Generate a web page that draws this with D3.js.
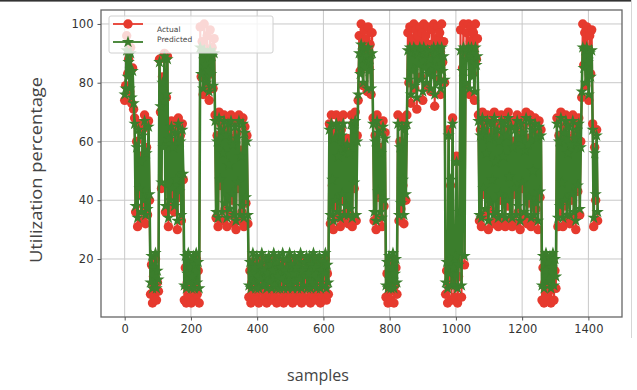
<!DOCTYPE html>
<html>
<head>
<meta charset="utf-8">
<script src="https://cdn.jsdelivr.net/npm/d3@7"></script>
<style>
  body { margin: 0; background: #fff; }
  svg { display: block; }
</style>
</head>
<body>
<div id="chart"></div>
<script>
// one value every 3 samples
var sampleStep = 3;

var actual = [
  74, 79, 96, 83, 88, 77, 92, 73, 85, 71,
  68, 36, 60, 31, 66, 42, 55, 33, 64, 38, 69, 32, 58, 35, 67, 40,
  8, 18, 5, 14, 7, 20, 6, 12, 9,
  88, 70, 44, 82, 60, 90, 36, 75,
  89, 31, 63, 38, 67, 42, 60, 36, 65, 45, 30, 68, 41, 62, 33, 66, 47,
  6, 17, 5, 12, 19, 7, 15, 5, 10, 18, 6, 14, 20, 8, 16, 5,
  99, 82, 94, 76, 100, 88, 79, 96, 85, 74, 98, 83, 92, 78, 95,
  69, 34, 62, 31, 70, 45, 66, 33, 58, 69,
  37, 64, 31, 68, 50, 35, 69, 40, 61, 32,
  67, 30, 63, 44, 69, 33, 57, 36, 68, 31,
  65, 39, 62, 32,
  7, 16, 5, 12, 19, 8, 14, 6, 18, 10,
  5, 15, 9, 20, 6, 13, 7, 17, 5, 11,
  19, 8, 15, 6, 12, 20, 7, 16, 5, 10,
  18, 6, 14, 9, 19, 5, 13, 8, 17, 6,
  11, 20, 7, 15, 5, 12, 18, 8, 14, 6,
  17, 9, 20, 5, 13, 7, 16, 10, 19, 6,
  12, 18, 5, 15, 8, 20, 7, 14, 6, 17,
  9, 19, 5, 13, 7, 16, 11, 20, 6, 15,
  8,
  66, 32, 69, 45, 30, 63, 38, 69, 34, 57,
  68, 31, 64, 40, 69, 33, 60, 36, 61, 32,
  58, 35, 69, 31, 66, 44, 70, 33, 62,
  74, 96, 84, 100, 90, 79, 98, 87, 95, 77, 99, 85, 93, 76, 97,
  68, 33, 62, 30, 69, 41, 65, 34, 58, 31, 67, 38, 63,
  7, 15, 5, 19, 9, 6, 13, 20, 5, 11, 17, 8,
  69, 33, 60, 37, 68, 45, 32, 66, 40, 69,
  97, 80, 99, 73, 95, 86, 100, 78, 98, 71,
  96, 90, 99, 82, 97, 74, 100, 88, 96, 79,
  99, 85, 93, 77, 98, 84, 100, 72, 95, 89,
  99, 81, 97, 76, 100, 87, 94, 80,
  8, 16, 5, 64, 11, 45, 6, 68, 13, 7, 19, 55, 5, 14, 33,
  98, 7, 85, 100, 18, 79, 97, 90, 100, 76, 94, 99, 83, 97, 74, 100, 88, 95,
  69, 33, 64, 31, 70, 42, 66, 35, 58, 69,
  30, 63, 37, 68, 45, 32, 70, 51, 34, 66,
  31, 62, 40, 69, 33, 57, 68, 31, 64, 38,
  70, 46, 33, 67, 31, 60, 42, 66, 32, 69,
  36, 63, 30, 68, 44, 65, 34, 59, 70, 32,
  61, 39, 69, 31, 66, 48, 33, 68, 37, 63,
  30, 67, 41, 64,
  6, 17, 5, 12, 20, 7, 15, 9, 18, 5, 13, 19, 6, 16, 10,
  68, 31, 62, 36, 70, 44, 31, 65, 38, 69,
  33, 58, 67, 32, 61, 40, 69, 34, 63, 30,
  66, 43, 68, 35, 60,
  75, 100, 86, 97, 79, 99, 90, 74, 96, 83, 98,
  66, 31, 58, 40, 64, 33
];

var predicted = [
  76, 78, 91, 82, 87, 78, 90, 75, 84, 73,
  66, 38, 58, 34, 64, 44, 53, 36, 62, 40, 67, 35, 56, 37, 65, 42,
  12, 21, 10, 17, 11, 22, 10, 16, 13,
  87, 72, 46, 80, 58, 89, 38, 76,
  88, 34, 61, 40, 65, 44, 58, 38, 63, 47, 33, 66, 43, 60, 35, 64, 49,
  11, 21, 10, 15, 22, 12, 19, 10, 14, 21, 10, 18, 22, 12, 19, 10,
  92, 83, 90, 78, 91, 86, 80, 90, 84, 77, 91, 83, 89, 79, 90,
  67, 36, 60, 34, 68, 47, 64, 36, 56, 67,
  39, 62, 34, 66, 52, 37, 67, 42, 59, 35,
  65, 33, 61, 46, 67, 35, 55, 38, 66, 34,
  63, 41, 60, 35,
  11, 19, 10, 15, 22, 12, 17, 10, 21, 14,
  10, 18, 13, 22, 11, 16, 11, 20, 10, 15,
  21, 12, 18, 10, 16, 22, 11, 19, 10, 14,
  21, 10, 17, 13, 22, 10, 16, 12, 20, 10,
  15, 22, 11, 18, 10, 15, 21, 12, 17, 10,
  20, 13, 22, 10, 16, 11, 19, 14, 21, 10,
  15, 21, 10, 18, 12, 22, 11, 17, 10, 20,
  13, 21, 10, 16, 11, 19, 15, 22, 10, 18,
  12,
  64, 35, 66, 47, 33, 61, 40, 66, 36, 55,
  65, 34, 62, 42, 66, 35, 58, 38, 59, 35,
  56, 37, 66, 34, 64, 46, 67, 35, 60,
  76, 90, 83, 93, 88, 80, 92, 85, 89, 78, 92, 84, 88, 78, 90,
  66, 36, 60, 33, 67, 43, 63, 36, 56, 34, 65, 40, 61,
  11, 19, 10, 21, 13, 10, 17, 22, 10, 15, 20, 12,
  66, 35, 58, 39, 65, 47, 35, 64, 42, 66,
  91, 81, 92, 76, 90, 84, 92, 79, 91, 75,
  90, 86, 92, 81, 91, 77, 92, 85, 90, 80,
  91, 83, 88, 78, 91, 82, 92, 76, 90, 85,
  92, 80, 91, 78, 92, 84, 89, 81,
  12, 19, 10, 62, 15, 47, 11, 66, 17, 11, 21, 53, 10, 18, 36,
  91, 11, 84, 92, 21, 80, 91, 88, 92, 78, 89, 92, 82, 90, 77, 92, 86, 89,
  67, 35, 62, 34, 68, 44, 64, 37, 56, 67,
  33, 61, 39, 66, 47, 35, 68, 53, 36, 64,
  34, 60, 42, 67, 35, 55, 66, 34, 62, 40,
  68, 48, 35, 65, 34, 58, 44, 64, 35, 67,
  38, 61, 33, 66, 46, 63, 36, 57, 68, 35,
  59, 41, 67, 34, 64, 50, 35, 66, 39, 61,
  33, 65, 43, 62,
  11, 21, 10, 16, 22, 12, 19, 13, 21, 10, 17, 22, 11, 20, 14,
  66, 34, 60, 38, 68, 46, 34, 63, 40, 67,
  35, 56, 65, 35, 59, 42, 67, 36, 61, 33,
  64, 45, 66, 37, 58,
  77, 92, 85, 91, 80, 92, 87, 76, 90, 82, 91,
  64, 34, 56, 42, 62, 36
];

var xTicks = [0, 200, 400, 600, 800, 1000, 1200, 1400];
var yTicks = [20, 40, 60, 80, 100];
var seriesNames = ["Actual", "Predicted"];

var svgWidth = 637, svgHeight = 390;
var red = "#e63a2e", green = "#3b7e2c";

var svg = d3.select("#chart").append("svg")
  .attr("width", svgWidth)
  .attr("height", svgHeight);

// screenshot edges
svg.append("rect").attr("x", 0).attr("y", 0).attr("width", 631).attr("height", 1.6).attr("fill", "#333");
svg.append("line").attr("x1", 631.5).attr("x2", 631.5).attr("y1", 0).attr("y2", 338)
  .attr("stroke", "#d6d6d6").attr("stroke-width", 1);

var x = d3.scaleLinear().domain([-71.5, 1501.5]).range([101, 622]);
var y = d3.scaleLinear().domain([0.25, 104.75]).range([317, 10]);

// grid
var grid = svg.append("g").attr("stroke", "#c8c8c8").attr("stroke-width", 1);
xTicks.forEach(function(t) {
  grid.append("line").attr("x1", x(t)).attr("x2", x(t)).attr("y1", 10).attr("y2", 317);
});
yTicks.forEach(function(t) {
  grid.append("line").attr("x1", 101).attr("x2", 622).attr("y1", y(t)).attr("y2", y(t));
});

var line = d3.line()
  .x(function(d, i) { return x(i * sampleStep); })
  .y(function(d) { return y(d); });

var plot = svg.append("g");

plot.append("path").datum(actual)
  .attr("fill", "none").attr("stroke", red).attr("stroke-width", 2)
  .attr("d", line);
plot.selectAll(".dot").data(actual).enter().append("circle")
  .attr("cx", function(d, i) { return x(i * sampleStep); })
  .attr("cy", function(d) { return y(d); })
  .attr("r", 4.7)
  .attr("fill", red);

var star = d3.symbol().type(d3.symbolStar).size(48);
plot.append("path").datum(predicted)
  .attr("fill", "none").attr("stroke", green).attr("stroke-width", 2.6)
  .attr("stroke-linejoin", "round")
  .attr("d", line);
plot.selectAll(".star").data(predicted).enter().append("path")
  .attr("transform", function(d, i) { return "translate(" + x(i * sampleStep) + "," + y(d) + ")"; })
  .attr("d", star)
  .attr("fill", green);

// frame
svg.append("rect").attr("x", 101).attr("y", 10).attr("width", 521).attr("height", 307)
  .attr("fill", "none").attr("stroke", "#666").attr("stroke-width", 1.3);

// axes
var xAxis = svg.append("g").attr("transform", "translate(0,317)")
  .call(d3.axisBottom(x).tickValues(xTicks).tickSize(3.5).tickPadding(4).tickFormat(d3.format("d")));
var yAxis = svg.append("g").attr("transform", "translate(101,0)")
  .call(d3.axisLeft(y).tickValues(yTicks).tickSize(3.5).tickPadding(4).tickFormat(d3.format("d")));
[xAxis, yAxis].forEach(function(a) {
  a.select(".domain").remove();
  a.selectAll(".tick line").attr("stroke", "#555");
  a.selectAll(".tick text").attr("fill", "#333")
    .style("font-family", "DejaVu Sans").style("font-size", "11.5px");
});

// axis titles
svg.append("text")
  .attr("transform", "translate(42,170) rotate(-90)")
  .attr("text-anchor", "middle")
  .attr("textLength", 186).attr("lengthAdjust", "spacingAndGlyphs")
  .style("font-family", "Open Sans").style("font-size", "16px").attr("fill", "#444")
  .text("Utilization percentage");
svg.append("text")
  .attr("x", 318).attr("y", 381)
  .attr("text-anchor", "middle")
  .style("font-family", "Open Sans").style("font-size", "16px").attr("fill", "#444")
  .text("samples");

// legend
var legend = svg.append("g");
legend.append("rect").attr("x", 109).attr("y", 16).attr("width", 164).attr("height", 37).attr("rx", 2)
  .attr("fill", "#fff").attr("fill-opacity", 0.8).attr("stroke", "#d0d0d0");
legend.append("line").attr("x1", 113).attr("x2", 143).attr("y1", 24).attr("y2", 24)
  .attr("stroke", red).attr("stroke-width", 1.8);
legend.append("circle").attr("cx", 128).attr("cy", 24).attr("r", 4.7).attr("fill", red);
legend.append("line").attr("x1", 113).attr("x2", 143).attr("y1", 42).attr("y2", 42)
  .attr("stroke", green).attr("stroke-width", 1.8);
legend.append("path").attr("transform", "translate(128,42)").attr("d", star).attr("fill", green);
seriesNames.forEach(function(name, i) {
  legend.append("text")
    .attr("x", 157).attr("y", 32 + i * 10)
    .style("font-family", "DejaVu Sans").style("font-size", "7.5px").attr("fill", "#444")
    .text(name);
});
</script>
</body>
</html>
